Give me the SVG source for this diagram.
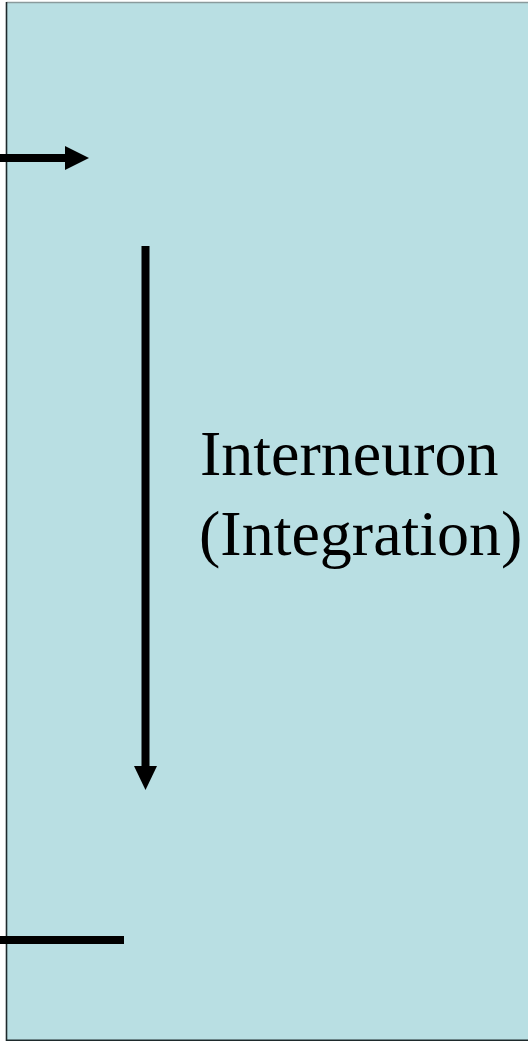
<svg xmlns="http://www.w3.org/2000/svg" width="528" height="1041" viewBox="0 0 528 1041">
  <style>
    .panel { fill: #b9dfe3; }
    .edge { stroke: #1e2a2c; stroke-width: 1.6; fill: none; }
    .bar { stroke: #000; stroke-width: 8; fill: none; }
    .head { fill: #000; }
    .label { font-family: "Liberation Serif", "Times New Roman", serif; font-size: 64px; fill: #000; }
  </style>
  <rect width="528" height="1041" fill="#ffffff"/>
  <!-- background panel -->
  <g id="panel">
    <rect class="panel" x="6.5" y="3" width="530" height="1037"/>
    <line x1="6.5" y1="2.5" x2="528" y2="2.5" stroke="#8a9a9c" stroke-width="1.5"/>
    <line class="edge" x1="6.5" y1="2" x2="6.5" y2="1041"/>
    <line class="edge" x1="6" y1="1040.2" x2="528" y2="1040.2"/>
  </g>
  <g id="connectors">
    <!-- incoming arrow -->
    <line class="bar" x1="0" y1="158" x2="67" y2="158"/>
    <polygon class="head" points="65,146 89,158 65,170"/>
    <!-- downward flow arrow -->
    <line class="bar" x1="145.5" y1="246" x2="145.5" y2="768"/>
    <polygon class="head" points="134,766 157,766 145.5,790"/>
    <!-- outgoing line -->
    <line class="bar" x1="0" y1="940" x2="124" y2="940"/>
  </g>
  <g id="interneuron">
    <text class="label" x="200" y="475">Interneuron</text>
    <text class="label" x="199" y="555">(Integration)</text>
  </g>
</svg>
